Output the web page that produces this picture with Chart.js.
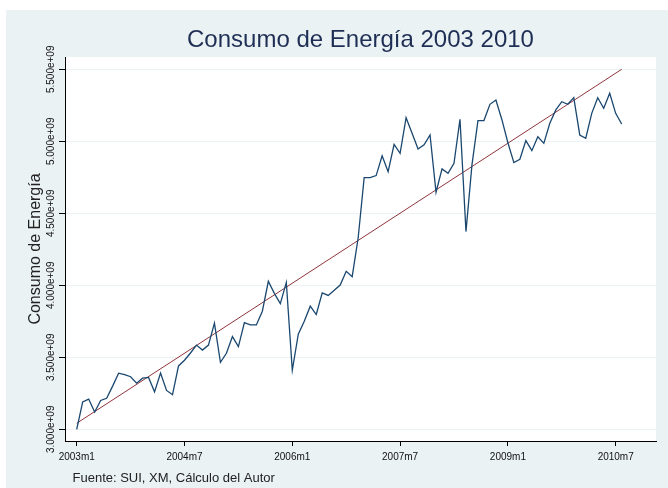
<!DOCTYPE html>
<html>
<head>
<meta charset="utf-8">
<script src="https://cdn.jsdelivr.net/npm/chart.js@4.4.1/dist/chart.umd.min.js"></script>
<style>
  html, body { margin: 0; padding: 0; background: #ffffff; }
  canvas { display: block; }
</style>
</head>
<body>
<canvas id="c" width="668" height="488"></canvas>
<script>
// ---- data ----
const periods = [
  '2003m1','2003m2','2003m3','2003m4','2003m5','2003m6','2003m7','2003m8','2003m9','2003m10','2003m11','2003m12',
  '2004m1','2004m2','2004m3','2004m4','2004m5','2004m6','2004m7','2004m8','2004m9','2004m10','2004m11','2004m12',
  '2005m1','2005m2','2005m3','2005m4','2005m5','2005m6','2005m7','2005m8','2005m9','2005m10','2005m11','2005m12',
  '2006m1','2006m2','2006m3','2006m4','2006m5','2006m6','2006m7','2006m8','2006m9','2006m10','2006m11','2006m12',
  '2007m1','2007m2','2007m3','2007m4','2007m5','2007m6','2007m7','2007m8','2007m9','2007m10','2007m11','2007m12',
  '2008m1','2008m2','2008m3','2008m4','2008m5','2008m6','2008m7','2008m8','2008m9','2008m10','2008m11','2008m12',
  '2009m1','2009m2','2009m3','2009m4','2009m5','2009m6','2009m7','2009m8','2009m9','2009m10','2009m11','2009m12',
  '2010m1','2010m2','2010m3','2010m4','2010m5','2010m6','2010m7','2010m8'
];
const consumo = [
  3.000e9, 3.190e9, 3.210e9, 3.120e9, 3.200e9, 3.215e9, 3.300e9, 3.390e9, 3.380e9, 3.365e9, 3.320e9, 3.355e9,
  3.360e9, 3.260e9, 3.390e9, 3.270e9, 3.240e9, 3.440e9, 3.480e9, 3.530e9, 3.585e9, 3.550e9, 3.585e9, 3.737e9,
  3.465e9, 3.528e9, 3.644e9, 3.574e9, 3.741e9, 3.725e9, 3.725e9, 3.820e9, 4.028e9, 3.944e9, 3.873e9, 4.020e9,
  3.410e9, 3.660e9, 3.750e9, 3.855e9, 3.797e9, 3.947e9, 3.930e9, 3.965e9, 4.002e9, 4.097e9, 4.060e9, 4.330e9,
  4.748e9, 4.748e9, 4.762e9, 4.900e9, 4.789e9, 4.979e9, 4.917e9, 5.164e9, 5.056e9, 4.947e9, 4.975e9, 5.044e9,
  4.646e9, 4.808e9, 4.778e9, 4.847e9, 5.153e9, 4.373e9, 4.836e9, 5.144e9, 5.144e9, 5.257e9, 5.287e9, 5.150e9,
  4.990e9, 4.852e9, 4.875e9, 5.005e9, 4.935e9, 5.032e9, 4.986e9, 5.125e9, 5.218e9, 5.275e9, 5.257e9, 5.303e9,
  5.044e9, 5.021e9, 5.194e9, 5.303e9, 5.229e9, 5.333e9, 5.194e9, 5.120e9
];
// fitted trend line: end points
const trendPeriods = ['2003m1', '2010m8'];
const trendValues = [3.042e9, 5.500e9];

const xTickLabels = ['2003m1', '2004m7', '2006m1', '2007m7', '2009m1', '2010m7'];
const yTicks = [3.0e9, 3.5e9, 4.0e9, 4.5e9, 5.0e9, 5.5e9];
const yTickLabels = ['3.000e+09', '3.500e+09', '4.000e+09', '4.500e+09', '5.000e+09', '5.500e+09'];

const titleText = 'Consumo de Energía 2003 2010';
const yTitleText = 'Consumo de Energía';
const noteText = 'Fuente: SUI, XM, Cálculo del Autor';

// ---- build chart ----
const FONT = '"Liberation Sans", Arial, sans-serif';
const seriesPts = consumo.map((v, i) => ({ x: i, y: v }));
const trendPts = trendPeriods.map((p, i) => ({ x: periods.indexOf(p), y: trendValues[i] }));
const xTickIdx = xTickLabels.map(l => periods.indexOf(l));

const bgPlugin = {
  id: 'stataBg',
  beforeDraw(chart) {
    const { ctx, chartArea: a, width, height } = chart;
    ctx.save();
    ctx.fillStyle = '#ffffff';
    ctx.fillRect(0, 0, width, height);
    ctx.fillStyle = '#eaf2f3';
    ctx.fillRect(6, 10, width - 6, height - 10);
    ctx.fillStyle = '#ffffff';
    ctx.fillRect(a.left, a.top, a.right - a.left, a.bottom - a.top);
    ctx.restore();
  },
  afterDraw(chart) {
    const ctx = chart.ctx;
    ctx.save();
    ctx.font = '13px ' + FONT;
    ctx.fillStyle = '#222222';
    ctx.textAlign = 'left';
    ctx.textBaseline = 'alphabetic';
    ctx.fillText(noteText, 72.5, 482);
    ctx.restore();
  }
};

new Chart(document.getElementById('c'), {
  type: 'line',
  data: {
    datasets: [
      { data: seriesPts, borderColor: '#1a476f', borderWidth: 1.3, pointRadius: 0, tension: 0, fill: false },
      { data: trendPts, borderColor: '#90353b', borderWidth: 1, pointRadius: 0, tension: 0, fill: false }
    ]
  },
  options: {
    responsive: false,
    animation: false,
    devicePixelRatio: 1,
    layout: { padding: { left: 6, right: 12, top: 10, bottom: 0 } },
    plugins: {
      legend: { display: false },
      tooltip: { enabled: false },
      title: {
        display: true, text: titleText, fullSize: false, color: '#1f2e55',
        font: { family: FONT, size: 24, weight: 'normal', lineHeight: 1.2 },
        padding: { top: 15.6, bottom: 2.6 }
      }
    },
    scales: {
      x: {
        type: 'linear', min: -1.954, max: 96.73,
        afterFit(s) { s.height = 47; },
        afterBuildTicks(s) { s.ticks = xTickIdx.map(v => ({ value: v })); },
        grid: { drawOnChartArea: false, tickLength: 5, tickColor: '#000000', tickWidth: 1 },
        border: { color: '#000000', width: 1 },
        ticks: {
          autoSkip: false, maxRotation: 0, minRotation: 0, padding: 5, color: '#111111',
          font: { family: FONT, size: 10 },
          callback: (v, i) => xTickLabels[i]
        }
      },
      y: {
        type: 'linear', min: 2.9188e9, max: 5.5854e9,
        afterFit(s) { s.width = 59; },
        afterBuildTicks(s) { s.ticks = yTicks.map(v => ({ value: v })); },
        grid: { color: '#eaf2f3', lineWidth: 1, tickLength: 6, tickColor: '#000000', tickWidth: 1 },
        border: { color: '#000000', width: 1 },
        ticks: {
          autoSkip: false, minRotation: 90, maxRotation: 90, crossAlign: 'center', padding: -16.5,
          color: '#111111', font: { family: FONT, size: 10 },
          callback: (v, i) => yTickLabels[i]
        },
        title: {
          display: true, text: yTitleText, color: '#222222',
          font: { family: FONT, size: 16, weight: 'normal', lineHeight: 1.2 },
          padding: { top: 20.4, bottom: 0 }
        }
      }
    }
  },
  plugins: [bgPlugin]
});
</script>
</body>
</html>
